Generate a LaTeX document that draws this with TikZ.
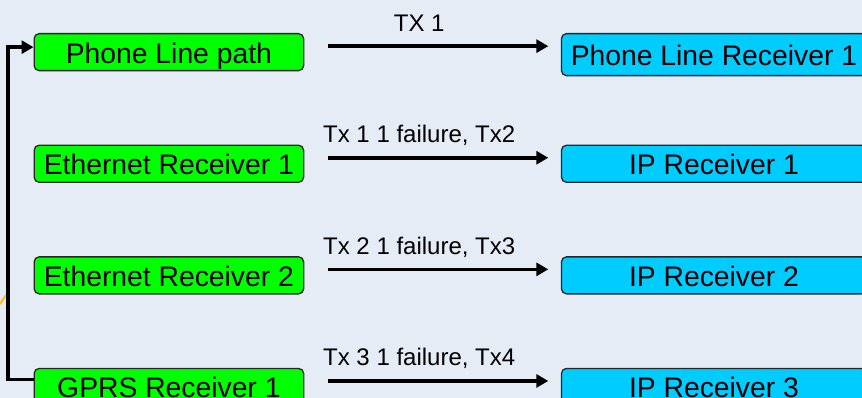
\documentclass[tikz,border=0pt]{standalone}
\usepackage{fontspec}
\setmainfont{Liberation Sans}
\usetikzlibrary{arrows.meta,positioning}
\definecolor{bg}{HTML}{E6ECF6}
\definecolor{srcgreen}{HTML}{00FF00}
\definecolor{dstcyan}{HTML}{00CCFF}
\definecolor{rim}{HTML}{262626}
\definecolor{fringe}{HTML}{FFC000}
\tikzset{
    src/.style =    {rectangle,
                    rounded corners=5pt,
                    fill=srcgreen,
                    draw=rim,
                    line width=1.3pt,
                    text=black,
                    font=\fontsize{28.3}{30}\selectfont,
                    minimum width=269.5pt,
                    minimum height=37pt,
                    text height=22pt,
                    text depth=0pt,
                    inner sep=0pt},
    dst/.style =    {src,
                    fill=dstcyan,
                    minimum width=305pt},
    tx/.style =     {line width=3.6pt,
                    ->,
                    shorten <=24pt,
                    shorten >=12.5pt},
    lbl/.style =    {font=\fontsize{24}{26}\selectfont,
                    text=black,
                    inner sep=0pt,
                    above=15pt,
                    anchor=base},
    >={Triangle[length=12pt,width=13pt]}}

\begin{document}
\begin{tikzpicture}[x=1pt,y=-1pt]
    \fill[bg] (0,0) rectangle (862,398);
    \useasboundingbox (0,0) rectangle (862,398);
    \draw[fringe, line width=2pt] (0,304) -- (6,295);
    % senders
    \node[src, anchor=north west] (phone) at (33.5,33)  {Phone Line path};
    \node[src] (eth1) [below=73.3pt of phone]          {Ethernet Receiver 1};
    \node[src] (eth2) [below=73.3pt of eth1]           {Ethernet Receiver 2};
    \node[src] (gprs) [below=73.3pt of eth2]           {GPRS Receiver 1};
    % receivers
    \node[dst, minimum height=42pt] (plr) [right=256.5pt of phone.north east, anchor=north west] {Phone Line Receiver 1};
    \node[dst] (ipr1) [right=256.5pt of eth1.north east, anchor=north west] {IP Receiver 1};
    \node[dst] (ipr2) [right=256.5pt of eth2.north east, anchor=north west] {IP Receiver 2};
    \node[dst] (ipr3) [right=256.5pt of gprs.north east, anchor=north west] {IP Receiver 3};
    \foreach \a/\b/\t in {phone/plr/{TX 1},
                          eth1/ipr1/{Tx 1 1 failure, Tx2},
                          eth2/ipr2/{Tx 2 1 failure, Tx3},
                          gprs/ipr3/{Tx 3 1 failure, Tx4}}{
        \coordinate (s) at ([yshift=6pt]\a.east);
        \draw[tx] (s) -- (s -| \b.west) node[lbl, pos=.448] {\t};
    }
    \draw[line width=3.6pt, ->] ([yshift=7.5pt]gprs.west) -- ++(-25.5pt,0) |- ([yshift=5pt]phone.west);
\end{tikzpicture}
\end{document}
